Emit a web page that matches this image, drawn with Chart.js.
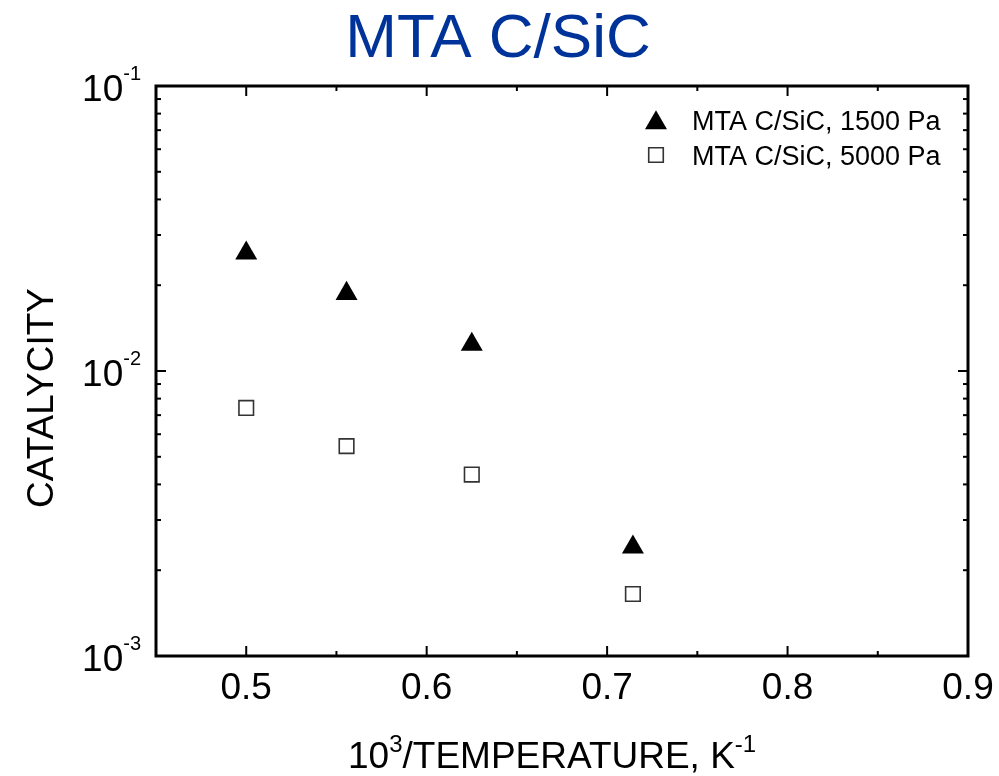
<!DOCTYPE html>
<html>
<head>
<meta charset="utf-8">
<script src="https://cdn.jsdelivr.net/npm/chart.js@4/dist/chart.umd.min.js"></script>
<style>
  html, body { margin: 0; padding: 0; background: #ffffff; }
  #wrap { width: 999px; height: 776px; position: relative; }
</style>
</head>
<body>
<div id="wrap"><canvas id="c"></canvas></div>
<script>
// Inverse temperature, 10^3 / T (K^-1)
const invTemp = [0.5, 0.5556, 0.625, 0.7143];
// Catalycity at 1500 Pa
const cat1500 = [0.0259, 0.0187, 0.0124, 0.00241];
// Catalycity at 5000 Pa
const cat5000 = [0.00742, 0.00545, 0.00433, 0.00165];

const seriesNames = ['MTA C/SiC, 1500 Pa', 'MTA C/SiC, 5000 Pa'];
const chartTitle = 'MTA C/SiC';
const yTitle = 'CATALYCITY';

// Axis ticks
const xMajorTicks = [0.5, 0.6, 0.7, 0.8, 0.9];
const xMinorTicks = [0.45, 0.55, 0.65, 0.75, 0.85];
const yDecadeExps = [-3, -2, -1];
const yMinorMantissas = [2, 3, 4, 5, 6, 7, 8, 9];

const FONT = '"Liberation Sans", Arial, Helvetica, sans-serif';

function toPoints(xs, ys) {
  return xs.map((x, i) => ({ x: x, y: ys[i] }));
}

function drawMarker(ctx, style, x, y, r, fill, stroke, lw) {
  ctx.save();
  ctx.beginPath();
  if (style === 'triangle') {
    let a = 0;
    ctx.moveTo(x + Math.sin(a) * r, y - Math.cos(a) * r);
    a += 2 * Math.PI / 3;
    ctx.lineTo(x + Math.sin(a) * r, y - Math.cos(a) * r);
    a += 2 * Math.PI / 3;
    ctx.lineTo(x + Math.sin(a) * r, y - Math.cos(a) * r);
    ctx.closePath();
  } else {
    const s = Math.SQRT1_2 * r;
    ctx.rect(x - s, y - s, 2 * s, 2 * s);
  }
  if (fill) { ctx.fillStyle = fill; ctx.fill(); }
  if (stroke && lw > 0) { ctx.strokeStyle = stroke; ctx.lineWidth = lw; ctx.stroke(); }
  ctx.restore();
}

// Draws a run of text pieces; pieces flagged sup are smaller and raised.
function drawRichText(ctx, x, y, pieces, size, supSize, supRaise) {
  let cx = x;
  pieces.forEach(p => {
    ctx.font = (p.sup ? supSize : size) + 'px ' + FONT;
    ctx.fillText(p.t, cx, p.sup ? y - supRaise : y);
    cx += ctx.measureText(p.t).width;
  });
  return cx;
}

function richWidth(ctx, pieces, size, supSize) {
  let w = 0;
  pieces.forEach(p => {
    ctx.font = (p.sup ? supSize : size) + 'px ' + FONT;
    w += ctx.measureText(p.t).width;
  });
  return w;
}

const framePlugin = {
  id: 'framePlugin',
  afterDatasetsDraw(chart) {
    const ctx = chart.ctx;
    const area = chart.chartArea;
    const xs = chart.scales.x;
    const ys = chart.scales.y;
    ctx.save();

    // Frame
    ctx.strokeStyle = '#000';
    ctx.lineWidth = 3;
    ctx.strokeRect(area.left, area.top, area.right - area.left, area.bottom - area.top);

    // X ticks (inward on bottom and top)
    ctx.lineWidth = 2;
    const tick = (x1, y1, x2, y2) => { ctx.beginPath(); ctx.moveTo(x1, y1); ctx.lineTo(x2, y2); ctx.stroke(); };
    xMajorTicks.forEach(v => {
      const px = xs.getPixelForValue(v);
      tick(px, area.bottom, px, area.bottom - 10);
      tick(px, area.top, px, area.top + 10);
    });
    xMinorTicks.forEach(v => {
      const px = xs.getPixelForValue(v);
      tick(px, area.bottom, px, area.bottom - 5);
      tick(px, area.top, px, area.top + 5);
    });

    // Y ticks (inward on left and right)
    yDecadeExps.forEach((e, i) => {
      const py = ys.getPixelForValue(Math.pow(10, e));
      tick(area.left, py, area.left + 10, py);
      tick(area.right, py, area.right - 10, py);
      if (i < yDecadeExps.length - 1) {
        yMinorMantissas.forEach(m => {
          const pm = ys.getPixelForValue(m * Math.pow(10, e));
          tick(area.left, pm, area.left + 5, pm);
          tick(area.right, pm, area.right - 5, pm);
        });
      }
    });

    ctx.fillStyle = '#000';
    ctx.textBaseline = 'alphabetic';

    // X tick labels
    ctx.font = '37px ' + FONT;
    ctx.textAlign = 'center';
    xMajorTicks.forEach(v => {
      ctx.fillText(v.toFixed(1), xs.getPixelForValue(v), area.bottom + 43);
    });

    // Y tick labels, 10 with superscript exponent
    ctx.textAlign = 'left';
    yDecadeExps.forEach(e => {
      const py = ys.getPixelForValue(Math.pow(10, e));
      const pieces = [{ t: '10' }, { t: '-' + Math.abs(e), sup: true }];
      const w = richWidth(ctx, pieces, 37, 20);
      drawRichText(ctx, 141 - w, py + 15, pieces, 37, 20, 21);
    });

    // X axis title
    const xt = [{ t: '10' }, { t: '3', sup: true }, { t: '/TEMPERATURE, K' }, { t: '-1', sup: true }];
    drawRichText(ctx, 348, 768, xt, 37, 24, 16);

    // Y axis title
    ctx.save();
    ctx.translate(53, 398);
    ctx.rotate(-Math.PI / 2);
    ctx.textAlign = 'center';
    ctx.font = '37px ' + FONT;
    ctx.fillText(yTitle, 0, 0);
    ctx.restore();

    // Chart title
    ctx.fillStyle = '#003399';
    ctx.textAlign = 'center';
    ctx.font = '62px ' + FONT;
    ctx.fillText(chartTitle, 498, 57);

    // Legend
    const ds = chart.data.datasets;
    const legendRows = [120, 155];
    ds.forEach((d, i) => {
      const ly = legendRows[i];
      drawMarker(ctx, d.pointStyle, 656, ly + (d.pointStyle === 'triangle' ? 3 : 0), d.pointRadius,
                 d.pointBackgroundColor, d.pointBorderColor, d.pointBorderWidth);
      ctx.fillStyle = '#000';
      ctx.textAlign = 'left';
      ctx.font = '27px ' + FONT;
      ctx.fillText(d.label, 692, ly + 10);
    });

    ctx.restore();
  }
};

new Chart(document.getElementById('c'), {
  type: 'scatter',
  data: {
    datasets: [
      {
        label: seriesNames[0],
        data: toPoints(invTemp, cat1500),
        pointStyle: 'triangle',
        pointRadius: 12.7,
        pointBackgroundColor: '#000000',
        pointBorderColor: '#000000',
        pointBorderWidth: 0,
        showLine: false
      },
      {
        label: seriesNames[1],
        data: toPoints(invTemp, cat5000),
        pointStyle: 'rect',
        pointRadius: 10.3,
        pointBackgroundColor: '#ffffff',
        pointBorderColor: '#333333',
        pointBorderWidth: 1.6,
        showLine: false
      }
    ]
  },
  options: {
    responsive: true,
    maintainAspectRatio: false,
    animation: false,
    events: [],
    layout: { padding: { left: 156, top: 86, right: 31, bottom: 120 } },
    plugins: {
      legend: { display: false },
      title: { display: false },
      tooltip: { enabled: false }
    },
    scales: {
      x: { type: 'linear', min: 0.45, max: 0.9, display: false },
      y: { type: 'logarithmic', min: 0.001, max: 0.1, display: false }
    }
  },
  plugins: [framePlugin]
});
</script>
</body>
</html>
